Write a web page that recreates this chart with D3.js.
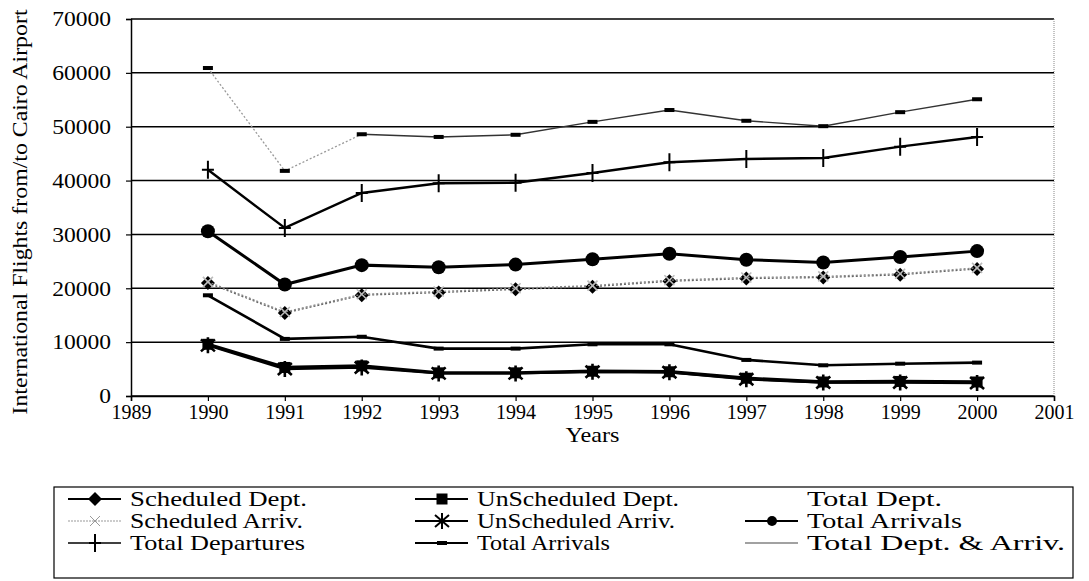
<!DOCTYPE html>
<html lang="en">
<head>
<meta charset="UTF-8">
<title>International Flights from/to Cairo Airport</title>
<script src="https://cdn.jsdelivr.net/npm/d3@7"></script>
<style>
    body { margin: 0; background: #fff; }
    svg text { font-family: "Liberation Serif", "Times New Roman", Times, "DejaVu Serif", serif; fill: #000; }
</style>
</head>
<body>
<div id="container"></div>
<script>
    // data
    const years = [1990, 1991, 1992, 1993, 1994, 1995, 1996, 1997, 1998, 1999, 2000];
    const xTicks = [1989, 1990, 1991, 1992, 1993, 1994, 1995, 1996, 1997, 1998, 1999, 2000, 2001];
    const yTicks = [0, 10000, 20000, 30000, 40000, 50000, 60000, 70000];
    const schedDept = [21000, 15400, 18700, 19200, 19800, 20300, 21300, 21800, 22000, 22500, 23600];
    const schedArriv = [21200, 15600, 18900, 19400, 20000, 20500, 21500, 22000, 22200, 22700, 23800];
    const unschedDept = [9600, 5300, 5600, 4300, 4300, 4600, 4500, 3300, 2600, 2700, 2600];
    const unschedArriv = [9400, 5000, 5300, 4200, 4200, 4500, 4400, 3100, 2500, 2500, 2400];
    const totalArrivals = [30600, 20700, 24300, 23900, 24400, 25400, 26400, 25300, 24800, 25800, 26900];
    const totalDepartures = [42000, 31200, 37700, 39500, 39600, 41400, 43400, 44000, 44200, 46300, 48100];
    const totalArrivals2 = [18700, 10600, 11000, 8800, 8800, 9600, 9600, 6700, 5700, 6000, 6200];
    const totalDeptArriv = [60900, 41800, 48600, 48100, 48500, 50900, 53100, 51100, 50100, 52700, 55100];

    const width = 1089, height = 581;
    const margin = {top: 19, right: 35, bottom: 185, left: 131};
    const serif = '"Liberation Serif", "Times New Roman", Times, "DejaVu Serif", serif';

    const svg = d3.select("#container")
        .append("svg")
        .attr("width", width)
        .attr("height", height);

    const xScale = d3.scaleLinear().domain([1989, 2001]).range([margin.left, width - margin.right]);
    const yScale = d3.scaleLinear().domain([0, 70000]).range([height - margin.bottom, margin.top]);

    // gridlines
    svg.append("g")
        .selectAll("line")
        .data(yTicks)
        .join("line")
        .attr("x1", margin.left)
        .attr("x2", width - margin.right)
        .attr("y1", d => yScale(d))
        .attr("y2", d => yScale(d))
        .attr("stroke", "#000")
        .attr("stroke-width", 1.5);

    // right border of plot area (dotted)
    svg.append("line")
        .attr("x1", width - margin.right)
        .attr("x2", width - margin.right)
        .attr("y1", yScale(70000))
        .attr("y2", yScale(0))
        .attr("stroke", "#888")
        .attr("stroke-width", 1)
        .attr("stroke-dasharray", "1,1");

    // axes
    const xAxis = svg.append("g")
        .attr("transform", `translate(0,${yScale(0)})`)
        .call(d3.axisBottom(xScale).tickValues(xTicks).tickFormat(d3.format("d")).tickSize(5).tickPadding(3));
    const yAxis = svg.append("g")
        .attr("transform", `translate(${margin.left},0)`)
        .call(d3.axisLeft(yScale).tickValues(yTicks).tickFormat(d3.format("d")).tickSize(5).tickPadding(15));

    [xAxis, yAxis].forEach(a => {
        a.attr("font-family", serif);
        a.select(".domain").attr("stroke", "#000").attr("stroke-width", 1.5);
        a.selectAll(".tick line").attr("stroke", "#000").attr("stroke-width", 1.2);
        a.selectAll(".tick text")
            .style("font-family", serif)
            .style("font-size", "21px")
            .attr("fill", "#000");
    });
    // the scan's tick labels are a little wider than the font
    xAxis.selectAll(".tick text").attr("textLength", 40).attr("lengthAdjust", "spacingAndGlyphs");
    yAxis.selectAll(".tick text").each(function () {
        const w = this.getComputedTextLength();
        d3.select(this).attr("textLength", w * 1.12).attr("lengthAdjust", "spacingAndGlyphs");
    });

    // axis titles
    svg.append("text")
        .attr("x", (xScale(1989) + xScale(2001)) / 2)
        .attr("y", 442)
        .attr("text-anchor", "middle")
        .style("font-size", "21px")
        .attr("textLength", 54)
        .attr("lengthAdjust", "spacingAndGlyphs")
        .text("Years");

    svg.append("text")
        .attr("transform", `translate(27,212) rotate(-90)`)
        .attr("text-anchor", "middle")
        .attr("textLength", 405)
        .attr("lengthAdjust", "spacingAndGlyphs")
        .style("font-size", "21px")
        .text("International Flights from/to Cairo Airport");

    // marker drawing
    function drawMarker(g, type, x, y) {
        if (type === "diamond") {
            g.append("path").attr("d", `M${x},${y - 7}L${x + 7},${y}L${x},${y + 7}L${x - 7},${y}Z`).attr("fill", "#000");
        } else if (type === "x") {
            g.append("path").attr("d", `M${x - 5},${y - 5}L${x + 5},${y + 5}M${x - 5},${y + 5}L${x + 5},${y - 5}`)
                .attr("stroke", "#bbb").attr("stroke-width", 1.6);
        } else if (type === "square") {
            g.append("rect").attr("x", x - 5.5).attr("y", y - 5.5).attr("width", 11).attr("height", 11).attr("fill", "#000");
        } else if (type === "star") {
            g.append("path").attr("d", `M${x - 7},${y - 6}L${x + 7},${y + 6}M${x - 7},${y + 6}L${x + 7},${y - 6}M${x},${y - 8}L${x},${y + 8}`)
                .attr("stroke", "#000").attr("stroke-width", 2.6);
        } else if (type === "circle") {
            g.append("circle").attr("cx", x).attr("cy", y).attr("r", 7).attr("fill", "#000");
        } else if (type === "plus") {
            g.append("path").attr("d", `M${x},${y - 9}L${x},${y + 9}M${x - 6},${y}L${x + 6},${y}`)
                .attr("stroke", "#000").attr("stroke-width", 2);
        } else if (type === "dash") {
            g.append("rect").attr("x", x - 5).attr("y", y - 2).attr("width", 10).attr("height", 4).attr("fill", "#000");
        }
    }

    const series = [
        {name: "Total Dept. & Arriv.", values: totalDeptArriv, stroke: "#333", width: 1.4, dash: null, marker: "dash", dottedUntil: 2},
        {name: "Total Departures", values: totalDepartures, stroke: "#000", width: 2.4, dash: null, marker: "plus"},
        {name: "Total Arrivals", values: totalArrivals, stroke: "#000", width: 3, dash: null, marker: "circle"},
        {name: "Scheduled Dept.", values: schedDept, stroke: "#666", width: 1.3, dash: "2,2", marker: "diamond"},
        {name: "Scheduled Arriv.", values: schedArriv, stroke: "#888", width: 1.3, dash: "2,2", marker: "x"},
        {name: "Total Arrivals 2", values: totalArrivals2, stroke: "#000", width: 2.6, dash: null, marker: "dash"},
        {name: "UnScheduled Dept.", values: unschedDept, stroke: "#000", width: 3.4, dash: null, marker: "square"},
        {name: "UnScheduled Arriv.", values: unschedArriv, stroke: "#000", width: 2.4, dash: null, marker: "star"}
    ];

    const lineGen = d3.line().x(d => xScale(d[0])).y(d => yScale(d[1]));

    series.forEach(s => {
        const pts = years.map((yr, i) => [yr, s.values[i]]);
        const g = svg.append("g");
        if (s.dottedUntil) {
            // the scan shows this line faint and dotted at its start
            g.append("path")
                .attr("d", lineGen(pts.slice(0, s.dottedUntil + 1)))
                .attr("fill", "none")
                .attr("stroke", "#999")
                .attr("stroke-width", 1.3)
                .attr("stroke-dasharray", "2,2");
            g.append("path")
                .attr("d", lineGen(pts.slice(s.dottedUntil)))
                .attr("fill", "none")
                .attr("stroke", s.stroke)
                .attr("stroke-width", s.width);
        } else {
            g.append("path")
                .attr("d", lineGen(pts))
                .attr("fill", "none")
                .attr("stroke", s.stroke)
                .attr("stroke-width", s.width)
                .attr("stroke-dasharray", s.dash);
        }
        pts.forEach(p => drawMarker(g, s.marker, xScale(p[0]), yScale(p[1])));
    });

    // legend (text widths follow the scan, which is stretched sideways)
    const legendItems = [
        {label: "Scheduled Dept.", col: 0, row: 0, stroke: "#000", width: 2, dash: null, marker: "diamond", tw: 177},
        {label: "Scheduled Arriv.", col: 0, row: 1, stroke: "#999", width: 1, dash: "2,1", marker: "x", tw: 173},
        {label: "Total Departures", col: 0, row: 2, stroke: "#000", width: 1.5, dash: null, marker: "plus", tw: 175},
        {label: "UnScheduled Dept.", col: 1, row: 0, stroke: "#000", width: 2, dash: null, marker: "square", tw: 202},
        {label: "UnScheduled Arriv.", col: 1, row: 1, stroke: "#000", width: 2, dash: null, marker: "star", tw: 198},
        {label: "Total Arrivals", col: 1, row: 2, stroke: "#000", width: 2, dash: null, marker: "dash", tw: 133},
        {label: "Total Dept.", col: 2, row: 0, stroke: "none", width: 0, dash: null, marker: null, tw: 135},
        {label: "Total Arrivals", col: 2, row: 1, stroke: "#000", width: 2, dash: null, marker: "circle", tw: 155},
        {label: "Total Dept. & Arriv.", col: 2, row: 2, stroke: "#444", width: 1.2, dash: null, marker: null, tw: 258}
    ];
    const colX = [68, 415, 745];
    const rowY = [499, 521, 543];

    const legend = svg.append("g").attr("class", "legend");
    legend.append("rect")
        .attr("x", 54).attr("y", 487)
        .attr("width", 1019).attr("height", 91)
        .attr("fill", "none").attr("stroke", "#000").attr("stroke-width", 1.2);

    legendItems.forEach(it => {
        const x0 = colX[it.col], y0 = rowY[it.row];
        const g = legend.append("g");
        if (it.stroke !== "none") {
            g.append("line")
                .attr("x1", x0).attr("x2", x0 + 53)
                .attr("y1", y0).attr("y2", y0)
                .attr("stroke", it.stroke).attr("stroke-width", it.width)
                .attr("stroke-dasharray", it.dash);
        }
        if (it.marker) {
            const m = legend.append("g");
            drawMarker(m, it.marker, x0 + 27, y0);
            if (it.marker === "star") m.selectAll("path").attr("stroke-width", 2);
            if (it.marker === "circle") m.select("circle").attr("r", 5);
            if (it.marker === "x") m.select("path").attr("stroke", "#999").attr("stroke-width", 1);
        }
        g.append("text")
            .attr("x", x0 + 62).attr("y", y0 + 7)
            .style("font-size", "21px")
            .attr("textLength", it.tw)
            .attr("lengthAdjust", "spacingAndGlyphs")
            .text(it.label);
    });
</script>
</body>
</html>
